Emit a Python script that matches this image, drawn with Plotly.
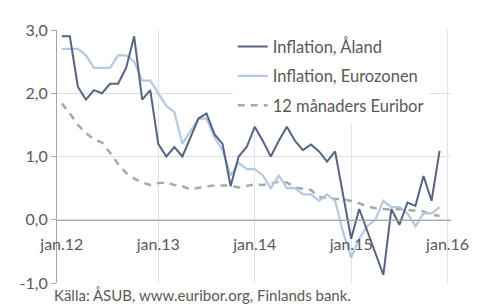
import plotly.graph_objects as go

# Months since jan.12 (0 = jan 2012 ... 47 = dec 2015)
months = list(range(48))

inflation_aland = [
    2.9, 2.9, 2.1, 1.9, 2.05, 2.0, 2.15, 2.15, 2.4, 2.9, 1.9, 2.05,
    1.2, 1.0, 1.15, 1.0, 1.3, 1.6, 1.68, 1.35, 1.2, 0.53, 1.0, 1.15,
    1.47, 1.25, 1.0, 1.25, 1.47, 1.25, 1.1, 1.19, 1.08, 0.92, 1.08, 0.4,
    -0.3, 0.17, -0.17, -0.52, -0.87, 0.17, -0.08, 0.27, 0.22, 0.69, 0.3, 1.09,
]
inflation_euro = [
    2.7, 2.7, 2.7, 2.6, 2.4, 2.4, 2.4, 2.6, 2.6, 2.5, 2.2, 2.2,
    2.0, 1.8, 1.7, 1.2, 1.4, 1.6, 1.6, 1.3, 1.1, 0.7, 0.9, 0.8,
    0.8, 0.7, 0.5, 0.7, 0.5, 0.5, 0.4, 0.4, 0.3, 0.4, 0.3, -0.2,
    -0.6, -0.3, -0.1, 0.0, 0.3, 0.2, 0.2, 0.1, -0.1, 0.1, 0.1, 0.2,
]
euribor_12m = [
    1.84, 1.68, 1.50, 1.37, 1.27, 1.22, 1.06, 0.88, 0.74, 0.65, 0.59, 0.55,
    0.58, 0.59, 0.55, 0.53, 0.48, 0.51, 0.53, 0.54, 0.54, 0.54, 0.51, 0.54,
    0.56, 0.55, 0.58, 0.60, 0.59, 0.51, 0.49, 0.47, 0.36, 0.34, 0.33, 0.33,
    0.30, 0.26, 0.21, 0.18, 0.17, 0.16, 0.17, 0.16, 0.15, 0.13, 0.08, 0.06,
]

x_tick_vals = [0, 12, 24, 36, 48]
x_tick_text = ["jan.12", "jan.13", "jan.14", "jan.15", "jan.16"]
y_tick_vals = [-1, 0, 1, 2, 3]
y_tick_text = ["-1,0", "0,0", "1,0", "2,0", "3,0"]

series_names = ["Inflation, Åland", "Inflation, Eurozonen", "12 månaders Euribor"]

FONT = "Lato, Open Sans, sans-serif"
TXT = "#595959"

fig = go.Figure()
fig.add_trace(go.Scatter(x=months, y=euribor_12m, mode="lines", name=series_names[2],
                         legendgroup="c", legendrank=3,
                         line=dict(color="#a9a9a9", width=2.5, dash="7px,6px")))
fig.add_trace(go.Scatter(x=months, y=inflation_euro, mode="lines", name=series_names[1],
                         legendgroup="b", legendrank=2,
                         line=dict(color="#b4c8e2", width=2.2)))
fig.add_trace(go.Scatter(x=months, y=inflation_aland, mode="lines", name=series_names[0],
                         legendgroup="a", legendrank=1,
                         line=dict(color="#56657f", width=2)))

# The page body has an 8px margin, so the figure is 8px smaller and offset.
fig.update_layout(
    width=473, height=296,
    margin=dict(l=45, r=24, t=14, b=20),
    paper_bgcolor="white", plot_bgcolor="white",
    font=dict(family=FONT, color=TXT, size=16),
    showlegend=True,
    legend=dict(x=0.446, y=1.003, xanchor="left", yanchor="top",
                bgcolor="white", borderwidth=0,
                font=dict(family=FONT, size=16.5, color=TXT),
                itemwidth=30, tracegroupgap=5, traceorder="grouped"),
    xaxis=dict(range=[-0.6, 48.42], tickvals=x_tick_vals, ticktext=x_tick_text,
               showgrid=False, zeroline=False,
               showline=True, linecolor="#a6a6a6", linewidth=1.2,
               anchor="free", position=0.25,
               ticks="", ticklabelstandoff=10,
               tickfont=dict(family=FONT, size=16, color=TXT),
               minor=dict(tickvals=[12, 24, 36, 48], showgrid=True,
                          gridcolor="#e3e3e3", gridwidth=1, ticks="")),
    yaxis=dict(range=[-1, 3], tickvals=y_tick_vals, ticktext=y_tick_text,
               showgrid=True, gridcolor="#dedede", gridwidth=1,
               zeroline=False, showline=True, linecolor="#a6a6a6", linewidth=1.2,
               ticks="outside", ticklen=5, tickcolor="#a6a6a6",
               tickfont=dict(family=FONT, size=16, color=TXT)),
    annotations=[dict(text="Källa: ÅSUB, www.euribor.org, Finlands bank.",
                      xref="paper", yref="paper", x=-0.012, y=0,
                      xanchor="left", yanchor="middle", yshift=-12,
                      showarrow=False, font=dict(family=FONT, size=15, color=TXT))],
)

fig.write_html("out.html")
